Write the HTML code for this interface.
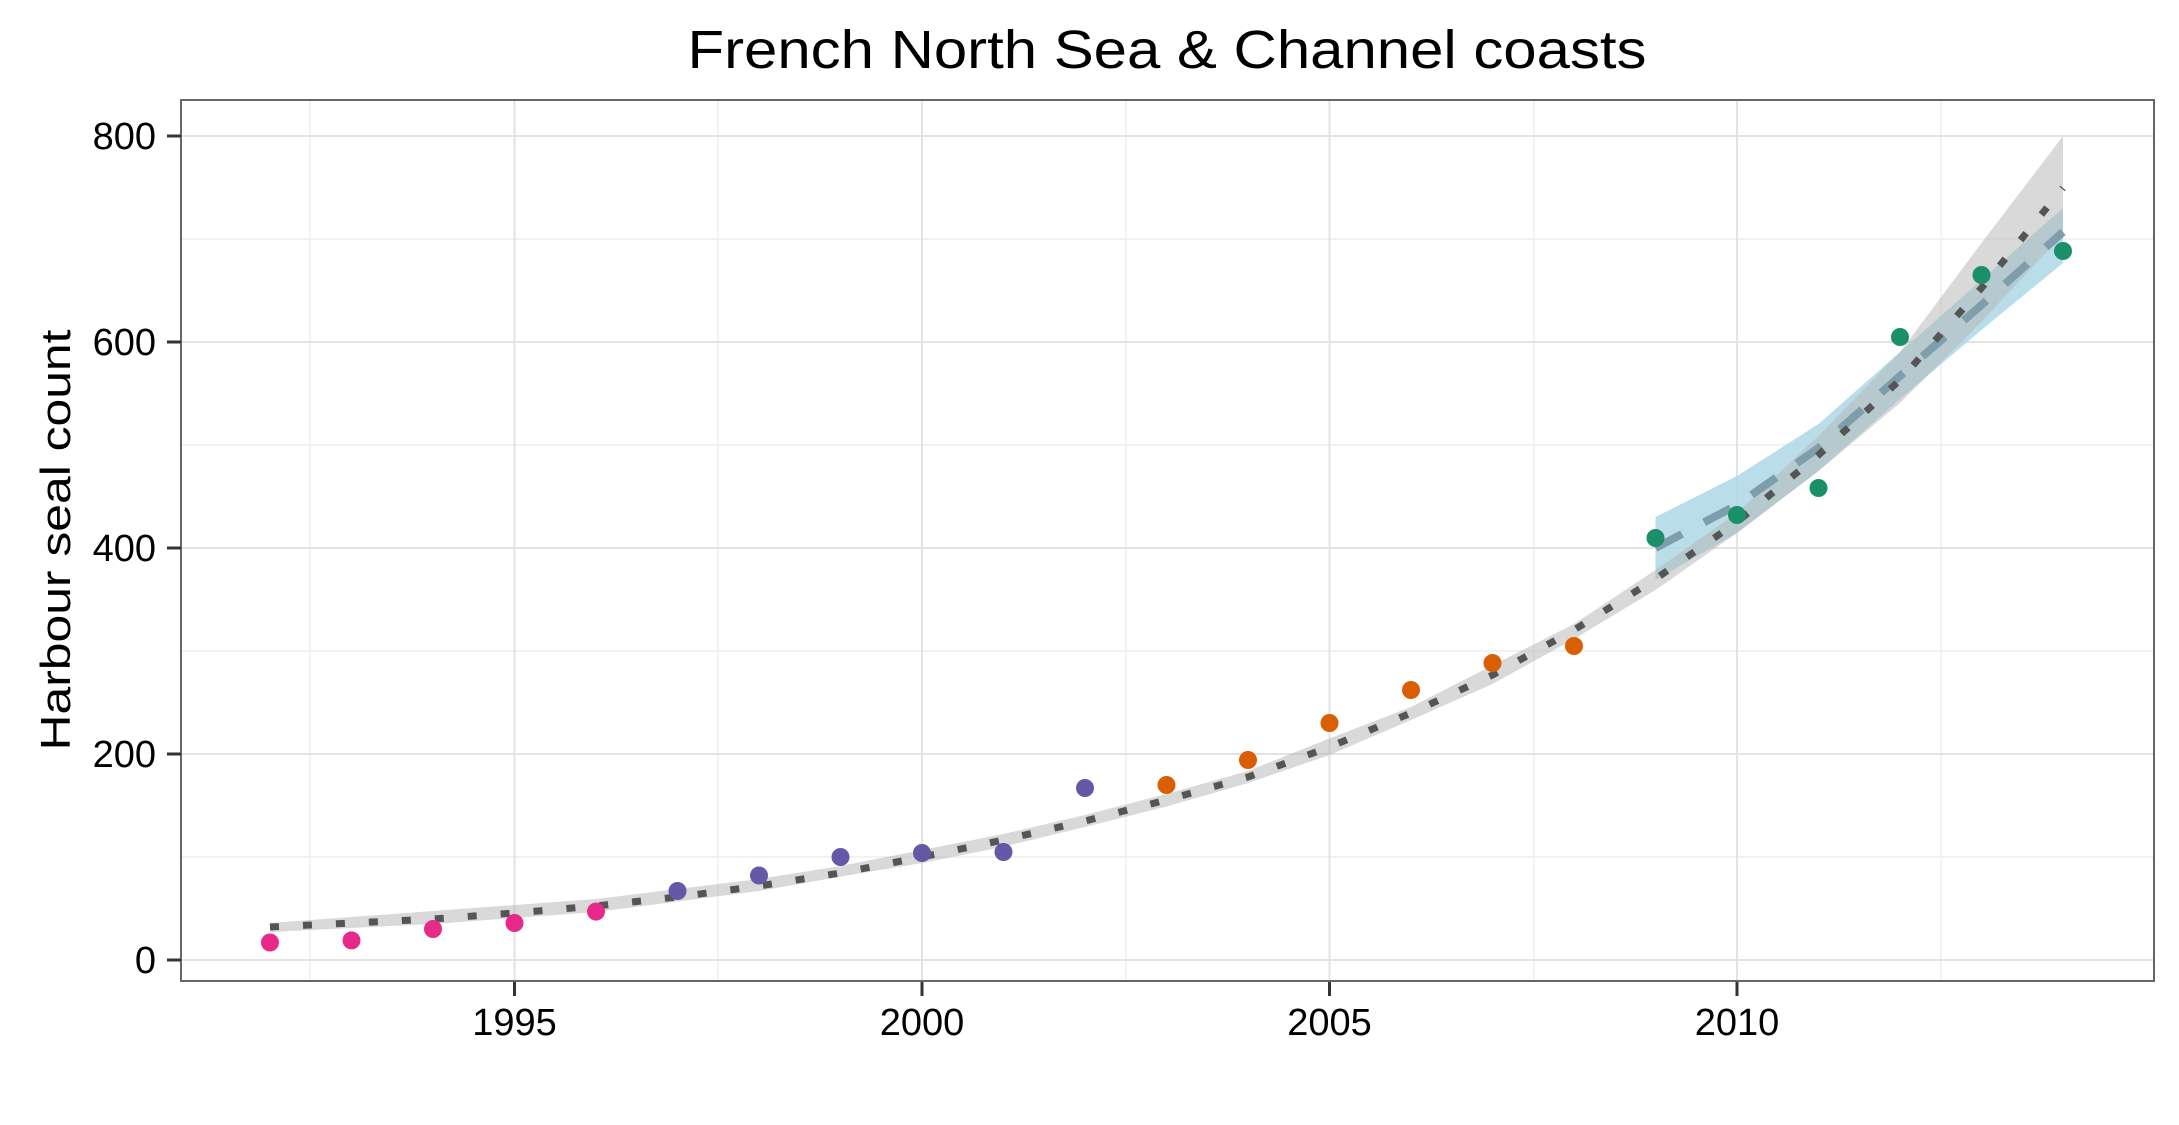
<!DOCTYPE html>
<html><head><meta charset="utf-8"><style>html,body{margin:0;padding:0;background:#fff}svg{display:block}</style></head>
<body>
<svg width="2179" height="1125" viewBox="0 0 2179 1125" xmlns="http://www.w3.org/2000/svg" font-family="Liberation Sans, Arial, sans-serif">
<rect width="2179" height="1125" fill="#fff"/>
<g stroke="#f2f2f2" stroke-width="2">
<line x1="181" x2="2154" y1="857" y2="857"/><line x1="181" x2="2154" y1="651" y2="651"/><line x1="181" x2="2154" y1="445" y2="445"/><line x1="181" x2="2154" y1="239" y2="239"/>
<line x1="310" x2="310" y1="100" y2="981"/><line x1="718" x2="718" y1="100" y2="981"/><line x1="1126" x2="1126" y1="100" y2="981"/><line x1="1534" x2="1534" y1="100" y2="981"/><line x1="1941" x2="1941" y1="100" y2="981"/>
</g>
<g stroke="#e3e3e3" stroke-width="2">
<line x1="181" x2="2154" y1="960" y2="960"/><line x1="181" x2="2154" y1="754" y2="754"/><line x1="181" x2="2154" y1="548" y2="548"/><line x1="181" x2="2154" y1="342" y2="342"/><line x1="181" x2="2154" y1="136" y2="136"/>
<line x1="514.5" x2="514.5" y1="100" y2="981"/><line x1="922" x2="922" y1="100" y2="981"/><line x1="1329.5" x2="1329.5" y1="100" y2="981"/><line x1="1737" x2="1737" y1="100" y2="981"/>
</g>
<polygon fill="#add8e6" fill-opacity="0.85" points="1655.5,517 1737,476 1818.5,424 1900,352 1981.5,280 2063,208 2063,263 1981.5,330 1900,399 1818.5,471 1737,533 1655.5,580"/>
<polygon fill="#b3b3b3" fill-opacity="0.5" points="270,923 433,911 596,899 759,879 840.5,866 922,850 1003.5,834 1085,815 1166.5,794 1248,771 1329.5,738.5 1411,707 1492.5,665.4 1574,624 1655.5,570 1737,513 1818.5,436 1900,352 1981.5,243 2063,136 2063,234 1981.5,322 1900,403 1818.5,471 1737,533 1655.5,590 1574,639 1492.5,684 1411,720 1329.5,755 1248,783 1166.5,806.5 1085,827 1003.5,846.7 922,863 840.5,876.6 759,891 596,912 433,924 270,932"/>
<polyline fill="none" stroke="#7f9eac" stroke-width="8" stroke-dasharray="30 25" points="1655.5,548 1737,505 1818.5,448 1900,376 1981.5,305 2063,232"/>
<polyline fill="none" stroke="#555" stroke-width="7" stroke-dasharray="9 24" points="270,927 351.5,923 433,919 514.5,913 596,906 677.5,897 759,886 840.5,873 922,857 1003.5,840 1085,821 1166.5,800 1248,777 1329.5,747 1411,713 1492.5,675 1574,630 1655.5,579 1737,522 1818.5,455 1900,380 1981.5,288 2063,188"/>
<g fill="#e7298a"><circle cx="270" cy="942.5" r="9"/><circle cx="351.5" cy="940.4" r="9"/><circle cx="433" cy="929" r="9"/><circle cx="514.5" cy="923" r="9"/><circle cx="596" cy="911.6" r="9"/></g>
<g fill="#6459a6"><circle cx="677.5" cy="891" r="9"/><circle cx="759" cy="875.5" r="9"/><circle cx="840.5" cy="857" r="9"/><circle cx="922" cy="853" r="9"/><circle cx="1003.5" cy="852" r="9"/><circle cx="1085" cy="788" r="9"/></g>
<g fill="#d95f02"><circle cx="1166.5" cy="785" r="9"/><circle cx="1248" cy="760" r="9"/><circle cx="1329.5" cy="723" r="9"/><circle cx="1411" cy="690" r="9"/><circle cx="1492.5" cy="663" r="9"/><circle cx="1574" cy="646" r="9"/></g>
<g fill="#1b9068"><circle cx="1655.5" cy="538" r="9"/><circle cx="1737" cy="515" r="9"/><circle cx="1818.5" cy="488" r="9"/><circle cx="1900" cy="337" r="9"/><circle cx="1981.5" cy="275" r="9"/><circle cx="2063" cy="251" r="9"/></g>
<rect x="181" y="100" width="1973" height="881" fill="none" stroke="#666" stroke-width="2"/>
<g stroke="#333" stroke-width="3">
<line x1="167" x2="181" y1="960" y2="960"/><line x1="167" x2="181" y1="754" y2="754"/><line x1="167" x2="181" y1="548" y2="548"/><line x1="167" x2="181" y1="342" y2="342"/><line x1="167" x2="181" y1="136" y2="136"/>
<line x1="514.5" x2="514.5" y1="982" y2="996"/><line x1="922" x2="922" y1="982" y2="996"/><line x1="1329.5" x2="1329.5" y1="982" y2="996"/><line x1="1737" x2="1737" y1="982" y2="996"/>
</g>
<g font-size="38" fill="#000" text-anchor="end">
<text x="156" y="973">0</text><text x="156" y="767">200</text><text x="156" y="561">400</text><text x="156" y="355">600</text><text x="156" y="149">800</text>
</g>
<g font-size="38" fill="#000" text-anchor="middle">
<text x="514.5" y="1035">1995</text><text x="922" y="1035">2000</text><text x="1329.5" y="1035">2005</text><text x="1737" y="1035">2010</text>
</g>
<text x="1167" y="68" font-size="54" text-anchor="middle" textLength="959" lengthAdjust="spacingAndGlyphs">French North Sea &amp; Channel coasts</text>
<text transform="translate(70,540) rotate(-90)" x="0" y="0" font-size="42" text-anchor="middle" textLength="421" lengthAdjust="spacingAndGlyphs">Harbour seal count</text>
</svg>
</body></html>
